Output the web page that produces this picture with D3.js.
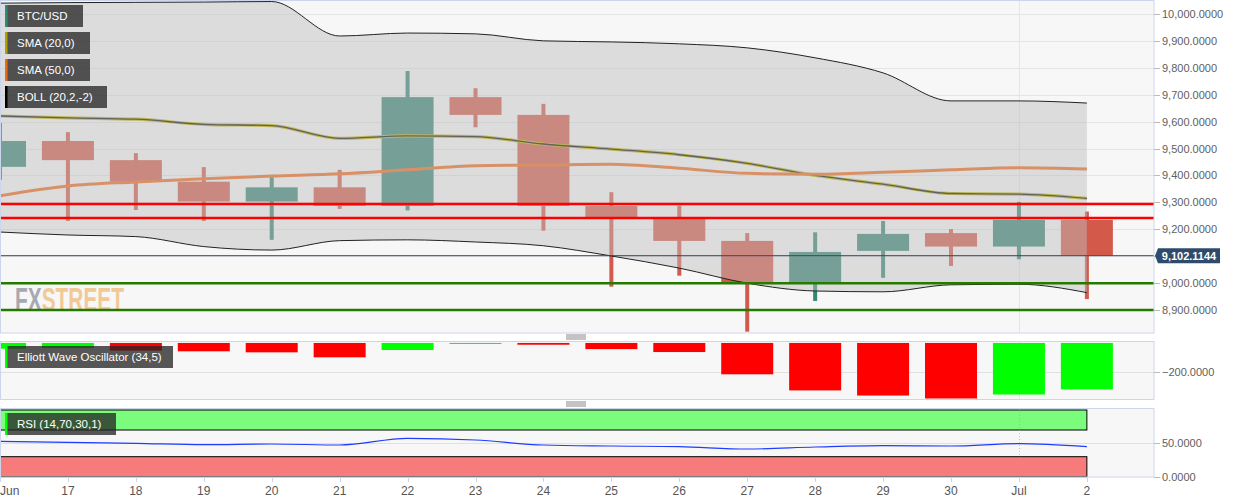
<!DOCTYPE html>
<html>
<head>
<meta charset="utf-8">
<script src="https://d3js.org/d3.v7.min.js"></script>
<style>
    body { margin: 0; background: #fff; }
    svg { display: block; font-family: "Liberation Sans", Arial, sans-serif; }
</style>
</head>
<body>
<div id="chart"></div>
<script>
// daily candles, 16 Jun .. 2 Jul
var dayLabels = ["Jun", "17", "18", "19", "20", "21", "22", "23", "24", "25", "26", "27", "28", "29", "30", "Jul", "2"];
var open  = [9432, 9528, 9457, 9377, 9303, 9356, 9287, 9691, 9625, 9287, 9245, 9157, 9002, 9120, 9186, 9136, 9235];
var high  = [9595, 9561, 9483, 9431, 9394, 9421, 9788, 9724, 9666, 9338, 9288, 9186, 9189, 9231, 9201, 9302, 9266];
var low   = [9384, 9231, 9272, 9231, 9161, 9276, 9270, 9579, 9195, 8987, 9028, 8820, 8934, 9020, 9064, 9089, 8941];
var close = [9528, 9457, 9377, 9303, 9356, 9287, 9691, 9625, 9287, 9245, 9157, 9002, 9116, 9183, 9136, 9235, 9102.1144];

var bollUpper = [10040, 10042, 10043, 10044, 10046, 9918, 9929, 9926, 9900, 9896, 9889, 9874, 9837, 9781, 9677, 9677, 9669];
var bollLower = [9190, 9179, 9173, 9136, 9123, 9158, 9161, 9153, 9139, 9101, 9056, 9000, 8971, 8968, 8994, 8996, 8965];
var sma20 = [9621, 9614, 9609, 9590, 9585, 9538, 9547, 9544, 9517, 9498, 9477, 9445, 9400, 9368, 9333, 9331, 9315];
var sma50 = [9325, 9361, 9376, 9388, 9398, 9406, 9421, 9436, 9439, 9442, 9427, 9408, 9405, 9412, 9421, 9429, 9424];

var ewo = [-39, -34, -52, -57, -64, -98, -48, -5, -12, -42, -62, -214, -324, -359, -379, -352, -317];
var rsi = [53, 51.5, 50, 48, 49, 47.5, 57.5, 55, 47.5, 46, 45, 41.5, 44.5, 46.5, 46, 49.5, 45];

var priceTicks = d3.range(8900, 10001, 100);
var resistance = [9294, 9242];
var support = [9000, 8900];
var lastPrice = 9102.1144;
var ewoTicks = [-200];
var rsiTicks = [50, 0];

var W = 1244, H = 503, plotR = 1154;
var svg = d3.select("#chart").append("svg").attr("width", W).attr("height", H);

var x = d3.scaleLinear().domain([0, 17]).range([0, 1154.8]);
var y = d3.scaleLinear().domain([8815, 10048]).range([333, 1]);
var yE = d3.scaleLinear().domain([-386, 10]).range([399.5, 341.5]);
var yR = d3.scaleLinear().domain([0, 100]).range([476.7, 410]);
var idx = d3.range(dayLabels.length);
var bodyW = 52;
var fmt = d3.format(",.4f");

var defs = svg.append("defs");
defs.append("clipPath").attr("id", "clipMain").append("rect").attr("x", 0).attr("y", 0.5).attr("width", plotR).attr("height", 332.5);
defs.append("clipPath").attr("id", "clipEwo").append("rect").attr("x", 0).attr("y", 341.5).attr("width", plotR).attr("height", 58);

// ---------- main panel ----------
svg.append("rect").attr("x", 0.5).attr("y", 0.5).attr("width", plotR - 0.5).attr("height", 332.5).attr("fill", "#f7f7f7");
var main = svg.append("g").attr("clip-path", "url(#clipMain)");

main.selectAll(".grid").data(priceTicks).enter().append("line")
    .attr("x1", 0).attr("x2", plotR)
    .attr("y1", function(d) { return Math.round(y(d)) + 0.5; })
    .attr("y2", function(d) { return Math.round(y(d)) + 0.5; })
    .attr("stroke", "#e4e4e4");
main.append("line").attr("x1", x(15) + 0.5).attr("x2", x(15) + 0.5).attr("y1", 0).attr("y2", 333).attr("stroke", "#e4e4e4");

var colUp = "#378775", colDown = "#d35a4a";
main.selectAll(".wick").data(idx).enter().append("rect")
    .attr("x", function(i) { return x(i) - 2; })
    .attr("width", 4)
    .attr("y", function(i) { return y(high[i]); })
    .attr("height", function(i) { return y(low[i]) - y(high[i]); })
    .attr("fill", function(i) { return close[i] >= open[i] ? colUp : colDown; });
main.selectAll(".body").data(idx).enter().append("rect")
    .attr("x", function(i) { return x(i) - bodyW / 2; })
    .attr("width", bodyW)
    .attr("y", function(i) { return y(Math.max(open[i], close[i])); })
    .attr("height", function(i) { return Math.abs(y(open[i]) - y(close[i])); })
    .attr("fill", function(i) { return close[i] >= open[i] ? colUp : colDown; });

var line = function(arr, sc) {
    return d3.line().x(function(d, i) { return x(i); }).y(function(d) { return sc(d); }).curve(d3.curveMonotoneX)(arr);
};
main.append("path").attr("d", line(sma20, y)).attr("fill", "none").attr("stroke", "#c2b400").attr("stroke-width", 3.2);
main.append("path").attr("d", line(sma20, y)).attr("fill", "none").attr("stroke", "#111").attr("stroke-width", 1.3);
main.append("path").attr("d", line(sma50, y)).attr("fill", "none").attr("stroke", "#f06a1c").attr("stroke-width", 3);

var band = d3.area().x(function(d, i) { return x(i); })
    .y0(function(d, i) { return y(bollLower[i]); })
    .y1(function(d) { return y(d); })
    .curve(d3.curveMonotoneX);
main.append("path").attr("d", band(bollUpper)).attr("fill", "rgb(190,190,190)").attr("fill-opacity", 0.47);
main.append("path").attr("d", line(bollUpper, y)).attr("fill", "none").attr("stroke", "#222").attr("stroke-width", 1);
main.append("path").attr("d", line(bollLower, y)).attr("fill", "none").attr("stroke", "#222").attr("stroke-width", 1);

// logo
var logo = main.append("text").attr("x", 15).attr("y", 311).attr("opacity", 0.85)
    .attr("textLength", 109).attr("lengthAdjust", "spacingAndGlyphs")
    .style("font-family", "'Liberation Sans Narrow', 'Liberation Sans', sans-serif").style("font-weight", "bold").attr("font-size", 33);
logo.append("tspan").attr("fill", "#9a9ca6").text("FX");
logo.append("tspan").attr("fill", "#f2c186").text("STREET");

main.selectAll(".res").data(resistance).enter().append("line")
    .attr("x1", 0).attr("x2", plotR).attr("y1", function(d) { return y(d); }).attr("y2", function(d) { return y(d); })
    .attr("stroke", "#ff0000").attr("stroke-width", 2.5);
main.selectAll(".sup").data(support).enter().append("line")
    .attr("x1", 0).attr("x2", plotR).attr("y1", function(d) { return y(d); }).attr("y2", function(d) { return y(d); })
    .attr("stroke", "#267a00").attr("stroke-width", 2.5);
main.append("line").attr("x1", 0).attr("x2", plotR).attr("y1", y(lastPrice)).attr("y2", y(lastPrice))
    .attr("stroke", "#34495e").attr("stroke-width", 1);

svg.append("rect").attr("x", 0.5).attr("y", 0.5).attr("width", plotR - 0.5).attr("height", 332.5)
    .attr("fill", "none").attr("stroke", "#ccd6eb");

// legend boxes
function legendBox(g, x0, y0, w, label, stripe) {
    g.append("rect").attr("x", x0).attr("y", y0).attr("width", w).attr("height", 22).attr("fill", "rgb(35,35,35)").attr("fill-opacity", 0.76);
    g.append("rect").attr("x", x0).attr("y", y0).attr("width", 2.5).attr("height", 22).attr("fill", stripe);
    g.append("text").attr("x", x0 + 12).attr("y", y0 + 15).attr("fill", "#fff").attr("font-size", 11.5).text(label);
}
legendBox(svg, 5, 5, 78, "BTC/USD", "#2e8b78");
legendBox(svg, 5, 32, 85, "SMA (20,0)", "#b0a000");
legendBox(svg, 5, 59, 85, "SMA (50,0)", "#ee6a10");
legendBox(svg, 5, 86, 102, "BOLL (20,2,-2)", "#000");

// right axis main
var ax = svg.append("g");
ax.selectAll(".t").data(priceTicks).enter().append("line")
    .attr("x1", plotR).attr("x2", plotR + 6)
    .attr("y1", function(d) { return Math.round(y(d)) + 0.5; }).attr("y2", function(d) { return Math.round(y(d)) + 0.5; })
    .attr("stroke", "#bbb");
ax.selectAll(".l").data(priceTicks).enter().append("text")
    .attr("x", plotR + 8).attr("y", function(d) { return y(d) + 4; })
    .attr("font-size", 11).attr("fill", "#606060").text(function(d) { return fmt(d); });

// last price label
var py = y(lastPrice);
svg.append("path")
    .attr("d", "M" + (plotR + 1) + "," + py + "L" + (plotR + 4) + "," + (py - 7.5) + "L1220," + (py - 7.5) + "L1220," + (py + 7.5) + "L" + (plotR + 4) + "," + (py + 7.5) + "Z")
    .attr("fill", "#2f4b6c");
svg.append("text").attr("x", 1189).attr("y", py + 4).attr("text-anchor", "middle")
    .attr("font-size", 11).attr("font-weight", "bold").attr("fill", "#fff").text(fmt(lastPrice));

// panel handles
function handle(yy) {
    [0, 2, 4].forEach(function(o) {
        svg.append("line").attr("x1", 566).attr("x2", 586).attr("y1", yy + o + 0.5).attr("y2", yy + o + 0.5).attr("stroke", "#888");
    });
}
handle(334.5);
handle(401.5);

// ---------- EWO panel ----------
svg.append("rect").attr("x", 0.5).attr("y", 341.5).attr("width", plotR - 0.5).attr("height", 58).attr("fill", "#f7f7f7");
var eg = svg.append("g").attr("clip-path", "url(#clipEwo)");
eg.append("line").attr("x1", 0).attr("x2", plotR).attr("y1", Math.round(yE(-200)) + 0.5).attr("y2", Math.round(yE(-200)) + 0.5).attr("stroke", "#e0e0e0");
eg.append("line").attr("x1", x(15) + 0.5).attr("x2", x(15) + 0.5).attr("y1", 341).attr("y2", 400).attr("stroke", "#e4e4e4");
eg.selectAll(".bar").data(idx).enter().append("rect")
    .attr("x", function(i) { return x(i) - bodyW / 2; })
    .attr("width", bodyW)
    .attr("y", yE(0))
    .attr("height", function(i) { return Math.max(1, yE(ewo[i]) - yE(0)); })
    .attr("fill", function(i) { return (i === 0 || ewo[i] > ewo[i - 1]) ? "#00ff00" : "#ff0000"; });
svg.append("rect").attr("x", 0.5).attr("y", 341.5).attr("width", plotR - 0.5).attr("height", 58).attr("fill", "none").attr("stroke", "#ccd6eb");
legendBox(svg, 5, 346, 168, "Elliott Wave Oscillator (34,5)", "#00ff00");
svg.selectAll(".et").data(ewoTicks).enter().append("line")
    .attr("x1", plotR).attr("x2", plotR + 6).attr("y1", function(d) { return Math.round(yE(d)) + 0.5; }).attr("y2", function(d) { return Math.round(yE(d)) + 0.5; }).attr("stroke", "#bbb");
svg.selectAll(".el").data(ewoTicks).enter().append("text")
    .attr("x", plotR + 8).attr("y", function(d) { return yE(d) + 4; })
    .attr("font-size", 11).attr("fill", "#606060").text(function(d) { return fmt(d); });

// ---------- RSI panel ----------
svg.append("rect").attr("x", 0.5).attr("y", 408.5).attr("width", plotR - 0.5).attr("height", 68.5).attr("fill", "#f7f7f7");
svg.append("line").attr("x1", 0).attr("x2", plotR).attr("y1", Math.round(yR(50)) + 0.5).attr("y2", Math.round(yR(50)) + 0.5).attr("stroke", "#e0e0e0");
svg.append("rect").attr("x", 0.5).attr("y", yR(100)).attr("width", x(16) - 0.5).attr("height", yR(70) - yR(100))
    .attr("fill", "#7cfc7c").attr("stroke", "#000").attr("stroke-width", 1);
svg.append("rect").attr("x", 0.5).attr("y", yR(30)).attr("width", x(16) - 0.5).attr("height", yR(0) - yR(30))
    .attr("fill", "#f87b7b").attr("stroke", "#000").attr("stroke-width", 1);
svg.append("line").attr("x1", x(15) + 0.5).attr("x2", x(15) + 0.5).attr("y1", 409).attr("y2", 477)
    .attr("stroke", "#d88").attr("stroke-dasharray", "1,2").attr("stroke-opacity", 0.6);
svg.append("path").attr("d", line(rsi, yR)).attr("fill", "none").attr("stroke", "#1f3cff").attr("stroke-width", 1.2);
svg.append("rect").attr("x", 0.5).attr("y", 408.5).attr("width", plotR - 0.5).attr("height", 68.5).attr("fill", "none").attr("stroke", "#ccd6eb");
legendBox(svg, 5, 413, 111, "RSI (14,70,30,1)", "#00ff00");
svg.selectAll(".rt").data(rsiTicks).enter().append("line")
    .attr("x1", plotR).attr("x2", plotR + 6).attr("y1", function(d) { return Math.round(yR(d)) + 0.5; }).attr("y2", function(d) { return Math.round(yR(d)) + 0.5; }).attr("stroke", "#bbb");
svg.selectAll(".rl").data(rsiTicks).enter().append("text")
    .attr("x", plotR + 8).attr("y", function(d) { return yR(d) + 4; })
    .attr("font-size", 11).attr("fill", "#606060").text(function(d) { return fmt(d); });

// ---------- x axis ----------
svg.selectAll(".xt").data(idx).enter().append("line")
    .attr("x1", function(i) { return Math.round(x(i)) + 0.5; }).attr("x2", function(i) { return Math.round(x(i)) + 0.5; })
    .attr("y1", 477).attr("y2", 482).attr("stroke", "#ccd6eb");
svg.selectAll(".xl").data(idx).enter().append("text")
    .attr("x", function(i) { return i === 0 ? 0 : x(i); })
    .attr("y", 495)
    .attr("text-anchor", function(i) { return i === 0 ? "start" : "middle"; })
    .attr("font-size", 12).attr("fill", "#555")
    .text(function(i) { return dayLabels[i]; });
</script>
</body>
</html>
